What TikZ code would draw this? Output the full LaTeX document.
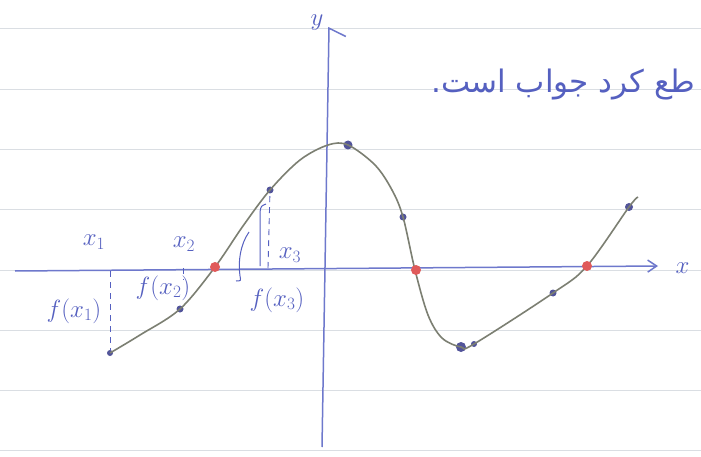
\documentclass[tikz,border=0pt]{standalone}
\usepackage{fontspec}
\usepackage{tikz}
\usetikzlibrary{arrows.meta, positioning}
\TeXXeTstate=1
\newfontfamily\farsifont[Script=Arabic]{DejaVu Sans}
\definecolor{nbline}{HTML}{DADEE3}
\definecolor{nbink}{HTML}{5560C0}
\definecolor{nbaxis}{HTML}{6E78CC}
\definecolor{nbcurve}{HTML}{7C7F72}
\definecolor{nbdot}{HTML}{52549A}
\definecolor{nbroot}{HTML}{E05A5A}

\begin{document}
\begin{tikzpicture}[
    x=1pt, y=-1pt,
    rule/.style={draw=nbline, line width=0.9pt},
    axis/.style={draw=nbaxis, line width=1.5pt},
    curve/.style={draw=nbcurve, line width=1.6pt},
    guide/.style={draw=nbink, dashed, dash pattern=on 6pt off 5pt, line width=0.9pt},
    dot/.style={circle, fill=nbdot, inner sep=0pt, minimum size=7pt},
    root/.style={circle, fill=nbroot, inner sep=0pt, minimum size=10pt},
    lbl/.style={text=nbink, font=\fontsize{23}{26}\selectfont},
  ]
    \useasboundingbox[fill=white] (0,0) rectangle (701,457);
    % ruled paper
    \foreach \ry in {28,89,149,209,270,330,390,450}
      \draw[rule] (0,\ry) -- (701,\ry);

    % axes
    \coordinate (xs) at (15,271);
    \coordinate (xe) at (658,266);
    \coordinate (ys) at (322,447);
    \coordinate (ye) at (329,27);
    \draw[axis, -{Straight Barb[length=9pt, width=12pt]}] (xs) -- (xe);
    \draw[axis, -{Straight Barb[right, length=8pt, width=34pt]}] (ys) -- (ye);
    \node[lbl, right=14pt of xe, yshift=-2pt] (xl) {$x$};
    \node[lbl, left=2pt of ye, yshift=4pt] (yl) {$y$};

    % sample points and roots
    \node[dot, minimum size=6pt] (p1) at (110,353) {};
    \node[dot] (p2) at (180,309) {};
    \node[dot] (p3) at (270,190) {};
    \node[dot, minimum size=9pt] (p4) at (348,145) {};
    \node[dot] (p5) at (403,217) {};
    \node[dot, minimum size=10pt] (p6) at (461,347) {};
    \node[dot, minimum size=6pt] (p7) at (474,344) {};
    \node[dot] (p8) at (553,293) {};
    \node[dot, minimum size=8pt] (p9) at (629,207) {};

    \draw[curve] plot[smooth, tension=0.55] coordinates {(p1) (140,335) (p2) (215,267) (243,226) (p3) (300,160) (328,145) (p4) (375,165) (392,190) (p5) (415,270) (428,315) (442,338) (p6) (p7) (p8) (587,266) (p9) (638,197)};

    \node[root] (r1) at (215,267) {};
    \node[root] (r2) at (416,270) {};
    \node[root] (r3) at (587,266) {};

    % guides to the axis
    \coordinate (a1) at (110,271);
    \coordinate (a2) at (183,268);
    \coordinate (a2b) at (183,280);
    \coordinate (a3) at (268,268);
    \draw[guide] (a1) -- (p1);
    \draw[guide] (a2) -- (a2b);
    \draw[guide] (a3) -- (p3);
    \draw[draw=nbink, line width=1pt] (260,266) -- (260,212) .. controls (261,206) .. (266,204);
    \draw[draw=nbink, line width=1pt] (249,232) .. controls (240,245) and (238,262) .. (240,276) .. controls (241,281) .. (236,281);

    % labels
    \node[lbl] (lx1) at (94,242) {$x_1$};
    \node[lbl] (lx2) at (184,244) {$x_2$};
    \node[lbl] (lx3) at (290,255) {$x_3$};
    \node[lbl] (lf1) at (74,311) {$f(x_1)$};
    \node[lbl] (lf2) at (163,288) {$f(x_2)$};
    \node[lbl] (lf3) at (277,300) {$f(x_3)$};

    \node[anchor=base east, text=nbink, font=\farsifont\fontsize{31}{36}\selectfont] (note) at (699,93) {\beginR طع کرد جواب است.\endR};
  \end{tikzpicture}
\end{document}
